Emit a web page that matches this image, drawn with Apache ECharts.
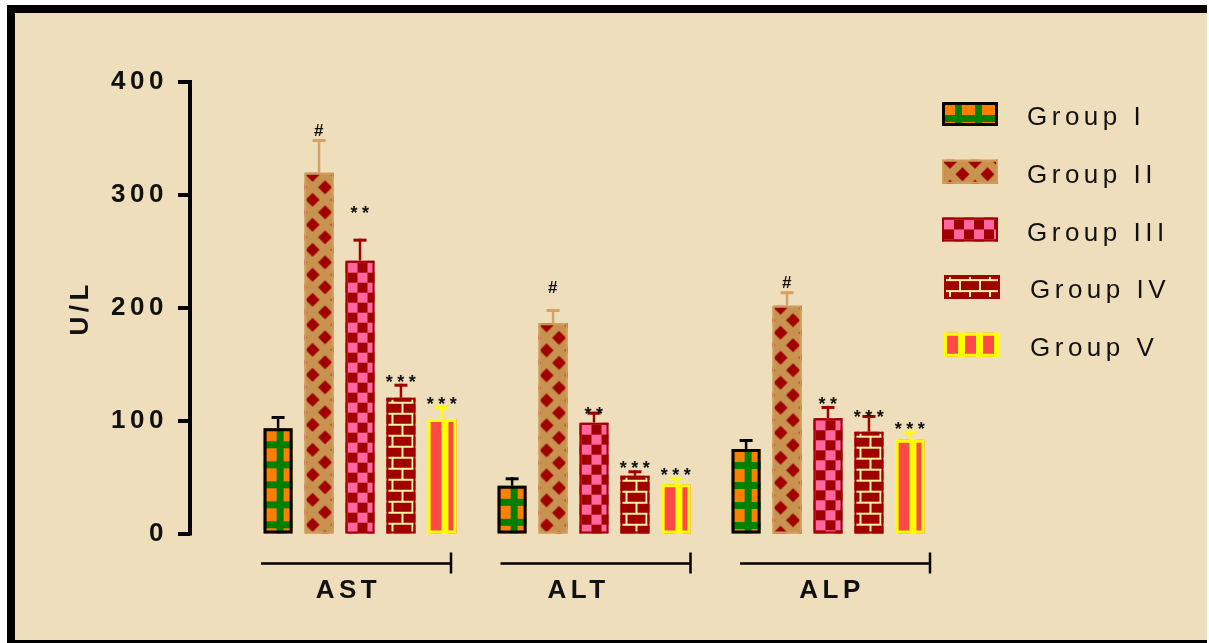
<!DOCTYPE html>
<html>
<head>
<meta charset="utf-8">
<script src="https://cdn.jsdelivr.net/npm/echarts@6/dist/echarts.min.js"></script>
<style>
  html, body { margin: 0; padding: 0; background: #ffffff; }
  #chart { width: 1209px; height: 643px; }
</style>
</head>
<body>
<div id="chart"></div>
<script>
// ---- data ----
const categories = ['AST', 'ALT', 'ALP'];
const groupNames = ['Group I', 'Group II', 'Group III', 'Group IV', 'Group V'];
const yTicks = [0, 100, 200, 300, 400];
const yName = 'U/L';

// group means (U/L), in the order AST, ALT, ALP
const meanI   = [93.2, 42.3, 74.9];
const meanII  = [319.6, 186.2, 201.8];
const meanIII = [241.7, 98.2, 102.1];
const meanIV  = [120.3, 51.2, 90.2];
const meanV   = [101.4, 43.6, 83.1];

// upper ends of the error bars (U/L)
const upperI   = [104.1, 49.8, 83.7];
const upperII  = [349.5, 198.9, 214.6];
const upperIII = [261.2, 107.9, 113.0];
const upperIV  = [132.7, 56.0, 105.0];
const upperV   = [113.0, 49.8, 91.1];

// significance marks
const marksI   = ['', '', ''];
const marksII  = ['#', '#', '#'];
const marksIII = ['**', '**', '**'];
const marksIV  = ['***', '***', '***'];
const marksV   = ['***', '***', '***'];

const means  = [meanI, meanII, meanIII, meanIV, meanV];
const uppers = [upperI, upperII, upperIII, upperIV, upperV];
const marks  = [marksI, marksII, marksIII, marksIV, marksV];

// ---- styling ----
const FONT = "'Liberation Sans', Arial, sans-serif";
const TRACKING = '4.5px';
const C = {
  green: '#008000', orange: '#ff8000',
  tan: '#c8924f', tanEdge: '#d09c5c',
  maroon: '#a00000', pink: '#ff679e',
  mortar: '#fff3a0',
  red: '#ff4848', yellow: '#ffff00',
  paper: '#efdebb'
};

// wide tracking on all chart lettering
(function () {
  const proto = CanvasRenderingContext2D.prototype;
  if (!('letterSpacing' in proto)) return;
  const fill = proto.fillText, stroke = proto.strokeText;
  proto.fillText = function () { this.letterSpacing = TRACKING; return fill.apply(this, arguments); };
  proto.strokeText = function () { this.letterSpacing = TRACKING; return stroke.apply(this, arguments); };
})();

function makeTile(w, h, draw) {
  const c = document.createElement('canvas');
  c.width = w; c.height = h;
  draw(c.getContext('2d'), w, h);
  return c;
}

function diamond(g, x, y, r) {
  g.beginPath();
  g.moveTo(x, y - r); g.lineTo(x + r, y); g.lineTo(x, y + r); g.lineTo(x - r, y);
  g.closePath(); g.fill();
}

// fill tiles, with the phase of each tile relative to a bar's top-left corner
const tiles = [
  { // orange blocks on a green grid
    img: makeTile(20, 20, (g) => {
      g.fillStyle = C.green; g.fillRect(0, 0, 20, 20);
      g.fillStyle = C.orange; g.fillRect(0, 0, 13, 13);
    }), dx: 0, dy: 0
  },
  { // dark red diamonds on tan
    img: makeTile(25, 25, (g) => {
      g.fillStyle = C.tan; g.fillRect(0, 0, 25, 25);
      g.fillStyle = C.maroon;
      [[0, 0], [25, 0], [0, 25], [25, 25], [12.5, 12.5]].forEach(p => diamond(g, p[0], p[1], 7));
    }), dx: 8, dy: 2
  },
  { // pink / dark red checkerboard
    img: makeTile(20, 20, (g) => {
      g.fillStyle = C.maroon; g.fillRect(0, 0, 20, 20);
      g.fillStyle = C.pink; g.fillRect(0, 0, 10, 10); g.fillRect(10, 10, 10, 10);
    }), dx: 2, dy: 2
  },
  { // pale bricks on dark red
    img: makeTile(20, 22, (g) => {
      g.fillStyle = C.maroon; g.fillRect(0, 0, 20, 22);
      g.fillStyle = C.mortar;
      g.fillRect(0, 0, 20, 2); g.fillRect(0, 11, 20, 2);
      g.fillRect(0, 2, 2, 9); g.fillRect(10, 13, 2, 9);
    }), dx: 5, dy: -7
  },
  { // red and yellow stripes
    img: makeTile(18, 4, (g) => {
      g.fillStyle = C.yellow; g.fillRect(0, 0, 18, 4);
      g.fillStyle = C.red; g.fillRect(0, 0, 11, 4);
    }), dx: 3, dy: 0
  }
];

const groupStyle = [
  { border: '#000000', lw: 3,   err: '#000000' },
  { border: C.tanEdge, lw: 2,   err: '#d4a264' },
  { border: C.maroon,  lw: 2,   err: C.maroon },
  { border: C.maroon,  lw: 2,   err: C.maroon },
  { border: C.yellow,  lw: 3,   err: C.yellow }
];

function fillAt(g, x, y) {
  return { image: tiles[g].img, repeat: 'repeat', x: x + tiles[g].dx, y: y + tiles[g].dy };
}

// extra lift (px) for a few marks that sit away from their whisker
const markLift = { '0-2': 24, '1-1': 13, '1-2': -4, '2-3': -4 };

const BAR_W = 0.124;   // bar width as a share of the category band
const PITCH = 0.175;   // distance between neighbouring bars

function barRenderer(g) {
  return function (params, api) {
    const i = api.value(0);
    const zero = api.coord([i, 0]);
    const top = api.coord([i, api.value(1)]);
    const up = api.coord([i, api.value(2)]);
    const band = api.size([1, 0])[0];
    const w = band * BAR_W;
    const cx = zero[0] + (g - 2) * band * PITCH;
    const x0 = cx - w / 2, y0 = top[1], h = zero[1] - top[1];
    const st = groupStyle[g];
    const lw = st.lw;
    const children = [
      { type: 'line', shape: { x1: cx, y1: y0, x2: cx, y2: up[1] },
        style: { stroke: st.err, lineWidth: 2.5 } },
      { type: 'line', shape: { x1: cx - 6.5, y1: up[1] + 1.5, x2: cx + 6.5, y2: up[1] + 1.5 },
        style: { stroke: st.err, lineWidth: 3 } },
      { type: 'rect', shape: { x: x0, y: y0, width: w, height: h },
        style: { fill: fillAt(g, x0, y0) } },
      { type: 'rect', shape: { x: x0 + lw / 2, y: y0 + lw / 2, width: w - lw, height: h - lw },
        style: { fill: 'none', stroke: st.border, lineWidth: lw } }
    ];
    const mark = marks[g][params.dataIndex];
    if (mark) {
      const isHash = mark.charAt(0) === '#';
      const lift = markLift[params.dataIndex + '-' + g] || 0;
      children.push({
        type: 'text',
        style: {
          text: mark, x: cx + 2, y: up[1] + (isHash ? -8 : -1) - lift,
          align: 'center', verticalAlign: 'middle',
          font: (isHash ? 'bold 17px ' : 'bold 18px ') + FONT, fill: '#111111'
        }
      });
    }
    return { type: 'group', children };
  };
}

const barSeries = groupNames.map((name, g) => ({
  name,
  type: 'custom',
  xAxisIndex: 0, yAxisIndex: 0,
  silent: true,
  renderItem: barRenderer(g),
  data: categories.map((c, i) => [i, means[g][i], uppers[g][i]])
}));

// bracket under each category
const bracketSeries = {
  type: 'custom',
  xAxisIndex: 1, yAxisIndex: 1,
  silent: true,
  renderItem: function (params, api) {
    const c = api.coord([api.value(0), 0]);
    const y = c[1] + 30;
    return {
      type: 'group',
      children: [
        { type: 'line', shape: { x1: c[0] - 95, y1: y, x2: c[0] + 95, y2: y },
          style: { stroke: '#000', lineWidth: 2.5 } },
        { type: 'line', shape: { x1: c[0] + 95, y1: y - 11, x2: c[0] + 95, y2: y + 10 },
          style: { stroke: '#000', lineWidth: 2.5 } }
      ]
    };
  },
  data: categories.map((c, i) => [i, 0])
};

// legend drawn as graphic elements
const legendItems = [];
groupNames.forEach((name, g) => {
  const px = g >= 3 ? 944 : 942;
  const py = 102 + g * 57.7;
  const st = groupStyle[g];
  legendItems.push(
    { type: 'rect', shape: { x: px, y: py, width: 56, height: 24 },
      style: { fill: fillAt(g, px, py) }, z: 10 },
    { type: 'rect', shape: { x: px + st.lw / 2, y: py + st.lw / 2, width: 56 - st.lw, height: 24 - st.lw },
      style: { fill: 'none', stroke: st.border, lineWidth: st.lw }, z: 10 },
    { type: 'text', x: g >= 3 ? 1030 : 1027, y: py + 16,
      style: { text: name, font: '26px ' + FONT, fill: '#111111', verticalAlign: 'middle' }, z: 10 }
  );
});

// category labels sit a little left of their bracket centres
const catLabelRich = {
  c0: { padding: [0, 15, 0, 0] },
  c1: { padding: [0, 34, 0, 0] },
  c2: { padding: [0, 6, 0, 0] }
};

const option = {
  animation: false,
  backgroundColor: '#ffffff',
  graphic: [
    { type: 'rect', shape: { x: 7, y: 5, width: 1200, height: 638 }, style: { fill: '#000000' }, z: -2 },
    { type: 'rect', shape: { x: 15, y: 13, width: 1192, height: 627 }, style: { fill: C.paper }, z: -1 }
  ].concat(legendItems),
  grid: [
    { left: 243, right: 264, top: 82, bottom: 109.5 },
    { left: 236.25, right: 254.25, top: 82, bottom: 109.5 }
  ],
  xAxis: [
    { type: 'category', gridIndex: 0, data: categories,
      axisLine: { show: false }, axisTick: { show: false }, axisLabel: { show: false } },
    { type: 'category', gridIndex: 1, data: categories,
      axisLine: { show: false }, axisTick: { show: false },
      axisLabel: { show: true, margin: 44,
        formatter: (v, idx) => '{c' + idx + '|' + v + '}',
        rich: catLabelRich,
        fontFamily: FONT, fontSize: 26, fontWeight: 'bold', color: '#111111' } }
  ],
  yAxis: [
    { type: 'value', gridIndex: 0, position: 'left', offset: 53,
      min: yTicks[0], max: yTicks[yTicks.length - 1], interval: yTicks[1] - yTicks[0],
      name: yName, nameLocation: 'middle', nameGap: 96,
      nameTextStyle: { fontFamily: FONT, fontSize: 26, fontWeight: 'bold', color: '#111111' },
      axisLine: { show: true, lineStyle: { color: '#000', width: 4, cap: 'square' } },
      axisTick: { show: true, length: 12, lineStyle: { color: '#000', width: 4 } },
      axisLabel: { margin: 22, fontFamily: FONT, fontSize: 26, fontWeight: 'bold', color: '#111111' },
      splitLine: { show: false } },
    { type: 'value', gridIndex: 1, min: yTicks[0], max: yTicks[yTicks.length - 1], show: false }
  ],
  series: barSeries.concat([bracketSeries])
};

const chart = echarts.init(document.getElementById('chart'), null, { renderer: 'canvas' });
chart.setOption(option);
</script>
</body>
</html>
